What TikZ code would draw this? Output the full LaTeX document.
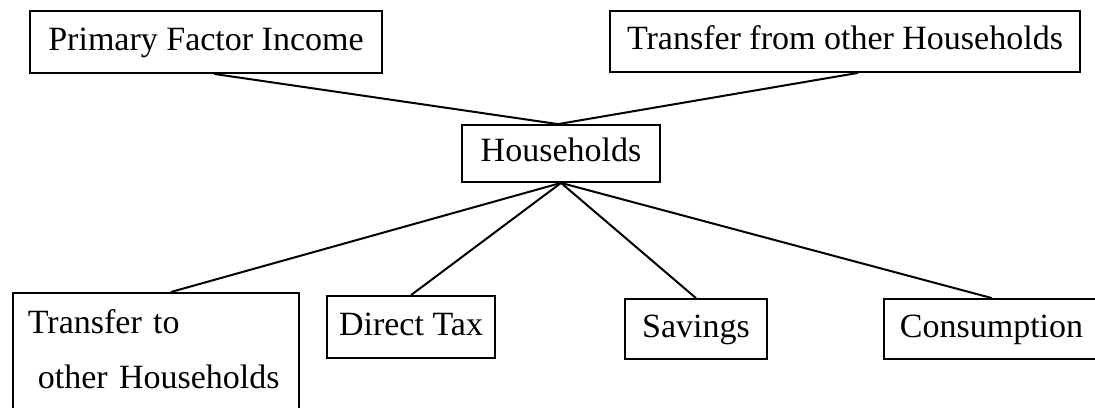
\documentclass[tikz,border=0pt]{standalone}
\usepackage{fontspec}
\setmainfont{Liberation Serif}
\begin{document}
\begin{tikzpicture}[x=1pt,y=-1pt,
  box/.style={draw, line width=1.8pt, inner sep=0pt, text height=23pt, text depth=7pt,
    font=\fontsize{34}{36}\selectfont},
  link/.style={line width=2pt}]
\useasboundingbox (0,0) rectangle (1095,407);
\node[box, minimum width=352, minimum height=62] (pfi) at (206,42) {Primary Factor Income};
\node[box, minimum width=470, minimum height=61] (tfo) at (845,41.5) {Transfer from other Households};
\node[box, minimum width=198, minimum height=57] (hh) at (561,153.5) {Households};
\node[draw, line width=1.8pt, anchor=north west, minimum width=286, inner xsep=15pt, inner ysep=17pt,
  align=left, font=\fontsize{34}{55}\selectfont, text width=256pt] (tto) at (12,292)
  {Transfer to\\\hspace*{10pt}other Households\rule[-40pt]{0pt}{0pt}};
\node[box, minimum width=168, minimum height=62] (dt) at (411,327) {Direct Tax};
\node[box, minimum width=142, minimum height=60] (sav) at (696,329) {Savings};
\node[box, minimum width=218, minimum height=60, inner xsep=16pt, anchor=west, text width=186pt] (con) at (883,329) {Consumption};
\draw[link] ([xshift=8]pfi.south) -- ([xshift=-3]hh.north);
\draw[link] ([xshift=13]tfo.south) -- ([xshift=-3]hh.north);
\draw[link] (hh.south) -- ([xshift=15]tto.north);
\draw[link] (hh.south) -- (dt.north);
\draw[link] (hh.south) -- (sav.north);
\draw[link] (hh.south) -- ([xshift=-1]con.north);
\end{tikzpicture}
\end{document}
